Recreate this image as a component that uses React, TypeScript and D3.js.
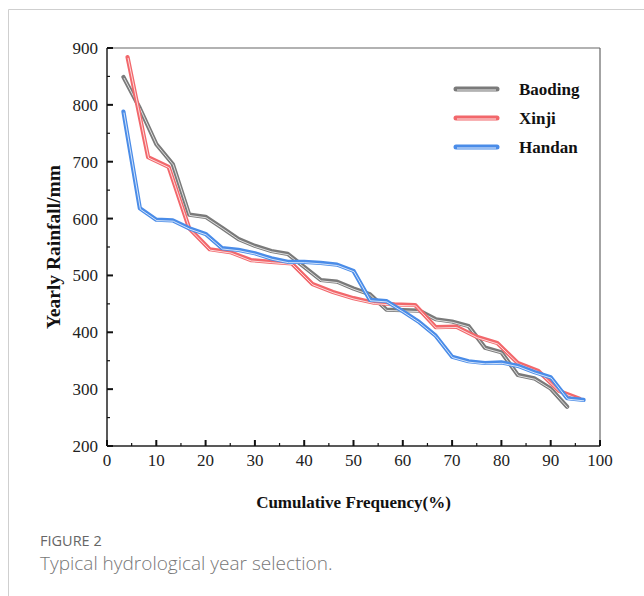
import React from "react";
import * as d3 from "d3";

const baodingX = d3.range(1, 29).map((m) => (m * 100) / 30);
const baodingY = [849, 794, 731, 696, 607, 603, 584, 564, 552, 543, 538, 515, 492, 489, 477, 467, 440, 439, 438, 423, 419, 411, 373, 365, 325, 319, 301, 269];

const xinjiX = d3.range(1, 24).map((m) => (m * 100) / 24);
const xinjiY = [884, 708, 691, 583, 546, 541, 527, 524, 521, 485, 471, 460, 452, 449, 448, 409, 410, 392, 381, 346, 332, 297, 283];

const handanX = d3.range(1, 30).map((m) => (m * 100) / 30);
const handanY = [788, 618, 598, 597, 583, 573, 548, 545, 539, 530, 524, 524, 522, 519, 508, 457, 455, 437, 418, 394, 357, 349, 346, 347, 341, 330, 321, 284, 281];

const seriesNames = ["Baoding", "Xinji", "Handan"];
const seriesColors = ["#7a7a7a", "#f2676b", "#4a8ce8"];
const xTicks = [0, 10, 20, 30, 40, 50, 60, 70, 80, 90, 100];
const yTicks = [200, 300, 400, 500, 600, 700, 800, 900];

export default function App() {
  const W = 644, H = 596;
  const L = 107, R = 600, T = 48, B = 446;
  const x = d3.scaleLinear().domain([0, 100]).range([L, R]);
  const y = d3.scaleLinear().domain([200, 900]).range([B, T]);
  const line = d3.line<[number, number]>().x((d) => x(d[0])).y((d) => y(d[1]));
  const series = [
    baodingX.map((v, i) => [v, baodingY[i]] as [number, number]),
    xinjiX.map((v, i) => [v, xinjiY[i]] as [number, number]),
    handanX.map((v, i) => [v, handanY[i]] as [number, number]),
  ];
  const xMinor = d3.range(5, 100, 10);
  const yMinor = d3.range(250, 900, 100);
  const serif = "'Liberation Serif', 'Times New Roman', serif";
  const sans = "'Open Sans', 'Noto Sans', sans-serif";
  return (
    <svg width={W} height={H} style={{ position: "absolute", left: 0, top: 0 }}>
      <rect x={0} y={0} width={W} height={H} fill="#fff" />
      <line x1={8.5} y1={9.5} x2={W} y2={9.5} stroke="#cfcfcf" />
      <line x1={8.5} y1={9.5} x2={8.5} y2={H} stroke="#cfcfcf" />
      {/* frame */}
      <line x1={L} y1={T} x2={R} y2={T} stroke="#666" strokeWidth={1.2} />
      <line x1={R} y1={T} x2={R} y2={B} stroke="#666" strokeWidth={1.2} />
      <line x1={L} y1={T} x2={L} y2={B} stroke="#222" strokeWidth={1.5} />
      <line x1={L} y1={B} x2={R} y2={B} stroke="#222" strokeWidth={1.5} />
      {yTicks.map((t) => (
        <g key={"y" + t}>
          <line x1={L} x2={L + 6} y1={y(t)} y2={y(t)} stroke="#111" strokeWidth={2} />
          <text x={L - 9} y={y(t)} dy="0.35em" textAnchor="end" fontFamily={serif} fontSize={17} fill="#222">{t}</text>
        </g>
      ))}
      {yMinor.map((t) => (
        <line key={"ym" + t} x1={L} x2={L + 3} y1={y(t)} y2={y(t)} stroke="#111" strokeWidth={1.2} />
      ))}
      {xTicks.map((t) => (
        <g key={"x" + t}>
          <line x1={x(t)} x2={x(t)} y1={B} y2={B - 6} stroke="#111" strokeWidth={2} />
          <text x={x(t)} y={B + 20} textAnchor="middle" fontFamily={serif} fontSize={17} fill="#222">{t}</text>
        </g>
      ))}
      {xMinor.map((t) => (
        <line key={"xm" + t} x1={x(t)} x2={x(t)} y1={B} y2={B - 3} stroke="#111" strokeWidth={1.2} />
      ))}
      {series.map((s, i) => (
        <g key={"s" + i}>
          <path d={line(s) || ""} fill="none" stroke={seriesColors[i]} strokeWidth={4.2} strokeLinejoin="round" strokeLinecap="round" />
          <path d={line(s) || ""} fill="none" stroke="#fff" strokeOpacity={0.85} strokeWidth={0.9} strokeLinejoin="round" transform="translate(0.5,0.9)" />
        </g>
      ))}
      {seriesNames.map((n, i) => {
        const ly = 89 + i * 29;
        return (
          <g key={"l" + n}>
            <line x1={456} x2={497} y1={ly} y2={ly} stroke={seriesColors[i]} strokeWidth={5} strokeLinecap="round" />
            <line x1={457} x2={496} y1={ly + 1} y2={ly + 1} stroke="#fff" strokeOpacity={0.85} strokeWidth={1} />
            <text x={519} y={ly} dy="0.35em" fontFamily={serif} fontWeight="bold" fontSize={17} fill="#111">{n}</text>
          </g>
        );
      })}
      <text transform={`translate(60,${(T + B) / 2}) rotate(-90)`} textAnchor="middle" fontFamily={serif} fontWeight="bold" fontSize={19.5} fill="#111">Yearly Rainfall/mm</text>
      <text x={(L + R) / 2} y={508} textAnchor="middle" fontFamily={serif} fontWeight="bold" fontSize={17} fill="#111">Cumulative Frequency(%)</text>
      <text x={40} y={546} fontFamily={sans} fontSize={14.5} fill="#666">FIGURE 2</text>
      <text x={40} y={570} fontFamily={sans} fontSize={19} fontWeight={300} fill="#777">Typical hydrological year selection.</text>
    </svg>
  );
}
